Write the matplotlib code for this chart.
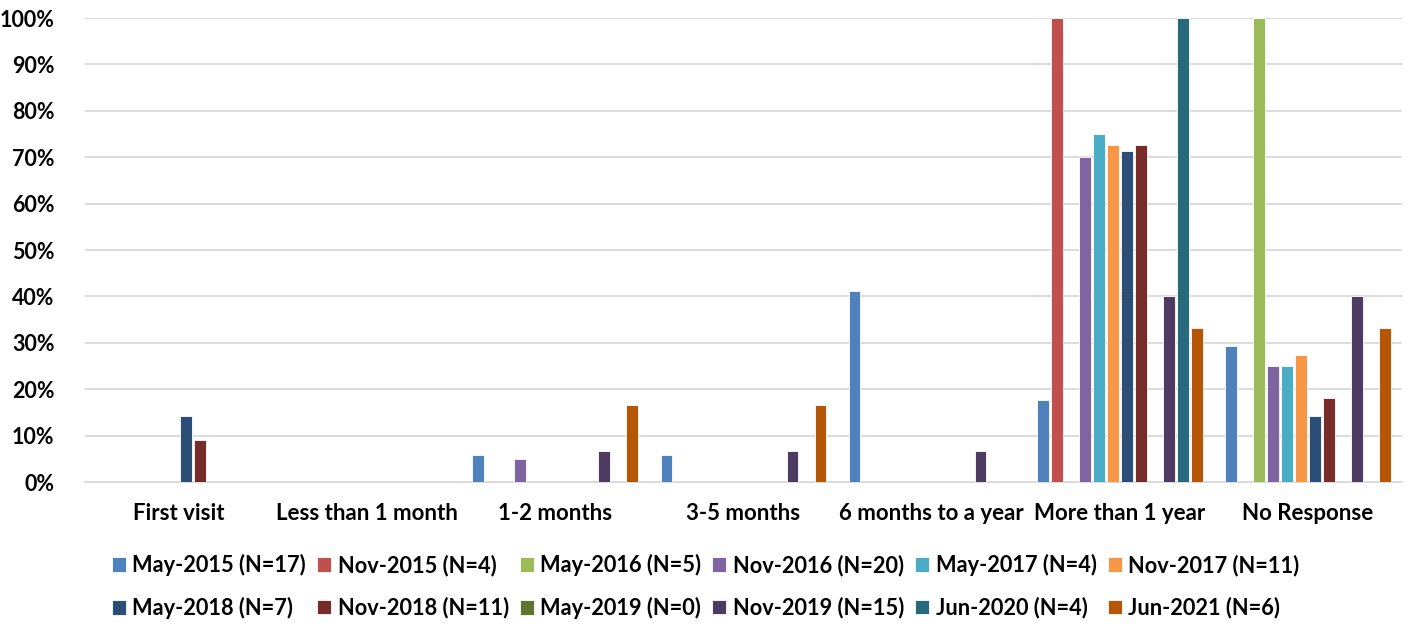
import numpy as np
import matplotlib
matplotlib.use('agg')
import matplotlib.pyplot as plt
from matplotlib.ticker import PercentFormatter

plt.rcParams['font.family'] = ['Lato', 'DejaVu Sans']
plt.rcParams['font.weight'] = 'bold'

categories = ['First visit', 'Less than 1 month', '1-2 months', '3-5 months',
              '6 months to a year', 'More than 1 year', 'No Response']

series_names = ['May-2015 (N=17)', 'Nov-2015 (N=4)', 'May-2016 (N=5)', 'Nov-2016 (N=20)',
                'May-2017 (N=4)', 'Nov-2017 (N=11)', 'May-2018 (N=7)', 'Nov-2018 (N=11)',
                'May-2019 (N=0)', 'Nov-2019 (N=15)', 'Jun-2020 (N=4)', 'Jun-2021 (N=6)']

colors = ['#4F81BD', '#C0504D', '#9BBB59', '#8064A2', '#4BACC6', '#F79646',
          '#2C4D75', '#772C2A', '#5F7530', '#4D3B62', '#276A7C', '#B65708']

# percentages per series, one value per category
may_2015 = [0, 0, 5.9, 5.9, 41.2, 17.6, 29.4]
nov_2015 = [0, 0, 0, 0, 0, 100, 0]
may_2016 = [0, 0, 0, 0, 0, 0, 100]
nov_2016 = [0, 0, 5.0, 0, 0, 70.0, 25.0]
may_2017 = [0, 0, 0, 0, 0, 75.0, 25.0]
nov_2017 = [0, 0, 0, 0, 0, 72.7, 27.3]
may_2018 = [14.3, 0, 0, 0, 0, 71.4, 14.3]
nov_2018 = [9.1, 0, 0, 0, 0, 72.7, 18.2]
may_2019 = [0, 0, 0, 0, 0, 0, 0]
nov_2019 = [0, 0, 6.7, 6.7, 6.7, 40.0, 40.0]
jun_2020 = [0, 0, 0, 0, 0, 100, 0]
jun_2021 = [0, 0, 16.7, 16.7, 0, 33.3, 33.3]

data = [may_2015, nov_2015, may_2016, nov_2016, may_2017, nov_2017,
        may_2018, nov_2018, may_2019, nov_2019, jun_2020, jun_2021]

fig = plt.figure(figsize=(14.11, 6.26), dpi=100)
ax = fig.add_axes([0.0602, 0.230, 0.9334, 0.7412])

x = np.arange(len(categories))
step = 0.0744
width = 0.062
handles = []
for i, (vals, name, c) in enumerate(zip(data, series_names, colors)):
    offs = (i - 5.5) * step
    h = ax.bar(x + offs, vals, width, color=c, edgecolor='white', linewidth=0.6,
               label=name, zorder=3)
    handles.append(h)

ax.set_xlim(-0.5, len(categories) - 0.5)
ax.set_ylim(0, 100)
ax.set_yticks(np.arange(0, 101, 10))
ax.yaxis.set_major_formatter(PercentFormatter(decimals=0))
ax.set_xticks(x)
ax.set_xticklabels(categories, fontsize=16)
ax.tick_params(axis='y', labelsize=15.5)
ax.tick_params(axis='both', length=0)
ax.tick_params(axis='x', pad=15)
ax.tick_params(axis='y', pad=22)
ax.grid(axis='y', color='#D9D9D9', linewidth=1.3, zorder=0)
for s in ['top', 'right', 'left']:
    ax.spines[s].set_visible(False)
ax.spines['bottom'].set_color('#D9D9D9')
ax.spines['bottom'].set_linewidth(1.3)

# legend fills by column, so interleave to get the row order
order = []
for k in range(6):
    order += [k, k + 6]
fig.legend([handles[k] for k in order], [series_names[k] for k in order],
           ncol=6, loc='center', bbox_to_anchor=(0.5, 0.063), frameon=False,
           fontsize=15.7, handlelength=0.65, handleheight=0.65, handletextpad=0.3,
           columnspacing=0.5, labelspacing=0.95)

fig.savefig('out.png', dpi=100)
